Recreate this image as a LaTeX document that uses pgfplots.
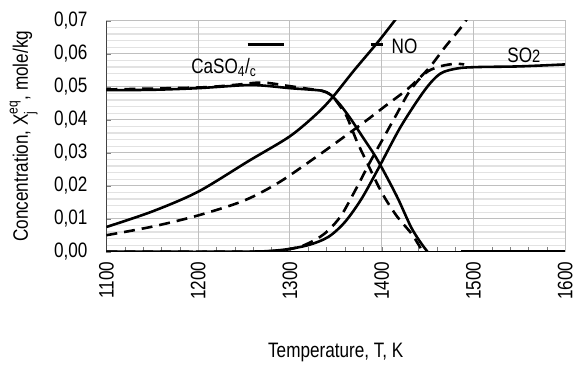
\documentclass[border=0pt]{standalone}
\usepackage{pgfplots}
\pgfplotsset{compat=1.18}
\usepackage{amsmath}
\usepackage{fontspec}
\setmainfont{Liberation Sans}[FakeStretch=0.82]
\definecolor{gmaj}{HTML}{BFBFBF}
\definecolor{gmin}{HTML}{E2E2E2}
\begin{document}
\fontsize{21}{24}\selectfont
\begin{tikzpicture}
\begin{axis}[name=ax, scale only axis, width=461pt, height=232pt,
  xmin=1100, xmax=1600, ymin=0, ymax=0.07,
  scaled y ticks=false,
  xtick={1100,1200,1300,1400,1500,1600},
  ytick={0,0.01,0.02,0.03,0.04,0.05,0.06,0.07},
  minor x tick num=4,
  xtick pos=bottom, ytick pos=left,
  tick align=inside, major tick length=4.5pt, minor tick length=4.5pt,
  axis line style={gmaj, line width=1pt},
  /pgf/number format/assume math mode=true,
  ticklabel style={font=\fontsize{21}{24}\selectfont},
  xticklabel style={/pgf/number format/.cd, 1000 sep={}, /tikz/.cd, yshift=-3pt, rotate=90, anchor=east},
  yticklabel style={/pgf/number format/.cd, use comma, fixed, fixed zerofill, precision=2, /tikz/.cd, xshift=-12pt},
  xlabel={Temperature, T, K},
  xlabel style={at={(axis description cs:0.5,0)}, anchor=base, yshift=-106pt, font=\fontsize{21}{24}\selectfont},
  ylabel={Concentration, X$_{\textrm{j}}^{\textrm{eq}}$, mole/kg},
  ylabel style={at={(axis description cs:-0.1714,0.5)}, anchor=base, rotate=0, font=\fontsize{21}{24}\selectfont},
]
% grid lines
\pgfplotsinvokeforeach{0.002,0.004,0.006,0.008,0.012,0.014,0.016,0.018,0.022,0.024,0.026,0.028,0.032,0.034,0.036,0.038,0.042,0.044,0.046,0.048,0.052,0.054,0.056,0.058,0.062,0.064,0.066,0.068}{
  \draw[gmin, line width=1.2pt] (axis cs:1100,#1) -- (axis cs:1600,#1);
}
\pgfplotsinvokeforeach{0.01,0.02,0.03,0.04,0.05,0.06}{
  \draw[gmaj, line width=1.2pt] (axis cs:1100,#1) -- (axis cs:1600,#1);
}
\pgfplotsinvokeforeach{1200,1300,1400,1500}{
  \draw[gmaj, line width=1.2pt] (axis cs:#1,0) -- (axis cs:#1,0.07);
}
% CaSO4/c solid
\addplot[black, line width=2.6pt, smooth] coordinates {
(1100,0.0490) (1150,0.0491) (1200,0.0496) (1250,0.0505) (1270,0.0504)
(1300,0.0496) (1320,0.0492) (1335,0.0488) (1344,0.0477) (1355,0.0445)
(1367,0.0400) (1380,0.0345) (1393,0.0290) (1405,0.0230) (1418,0.0160)
(1432,0.0075) (1442,0.0030) (1450,0.0000) (1456,-0.0020)};
\addplot[black, line width=2.6pt] coordinates {(1487,0) (1600,0)};
% CaSO4/c dashed
\addplot[black, line width=2.6pt, smooth, dash pattern=on 11pt off 7pt] coordinates {
(1100,0.0492) (1200,0.0498) (1240,0.0506) (1270,0.0513) (1300,0.0502)
(1320,0.0494) (1335,0.0488) (1345,0.0475) (1355,0.0440) (1362,0.0410)
(1373,0.0335) (1385,0.0265) (1400,0.0180) (1416,0.0110) (1433,0.0053)
(1445,0.0000) (1450,-0.0015)};
% NO solid
\addplot[black, line width=2.6pt, smooth] coordinates {
(1100,0.0075) (1150,0.0122) (1200,0.0182) (1255,0.0275) (1300,0.0350)
(1330,0.0420) (1347,0.0470) (1370,0.0550) (1396,0.0636) (1414,0.0700)
(1425,0.0740)};
% NO dashed
\addplot[black, line width=2.6pt, smooth, dash pattern=on 11pt off 7pt] coordinates {
(1100,0.0050) (1150,0.0076) (1200,0.0110) (1250,0.0155) (1288,0.0210)
(1330,0.0290) (1355,0.0340) (1382,0.0395) (1405,0.0444) (1429,0.0495)
(1451,0.0555) (1469,0.0620) (1488,0.0685) (1496,0.0720)};
% SO2 solid
\addplot[black, line width=2.6pt, smooth] coordinates {
(1100,0.0000) (1250,0.0000) (1290,0.0005) (1320,0.0020) (1342,0.0045)
(1360,0.0090) (1378,0.0160) (1396,0.0250) (1421,0.0380) (1447,0.0490)
(1464,0.0540) (1483,0.0556) (1505,0.0560) (1550,0.0562) (1600,0.0568)};
% SO2 dashed
\addplot[black, line width=2.6pt, smooth, dash pattern=on 11pt off 7pt] coordinates {
(1100,0.0000) (1250,0.0000) (1290,0.0004) (1312,0.0016) (1330,0.0040)
(1342,0.0065) (1356,0.0110) (1372,0.0190) (1387,0.0270) (1401,0.0340)
(1416,0.0415) (1429,0.0480) (1440,0.0520) (1451,0.0548) (1465,0.0563)
(1480,0.0570) (1490,0.0568)};
% left and bottom axis lines in black
\draw[black, line width=1pt] (rel axis cs:0,1) -- (rel axis cs:0,0) -- (rel axis cs:1,0);
% labels and legend remnants
\node[font=\fontsize{21}{24}\selectfont] at (axis cs:1228,0.0558) {CaSO\textsubscript{4}/\textsubscript{c}};
\node[font=\fontsize{21}{24}\selectfont] at (axis cs:1425,0.0622) {NO};
\node[font=\fontsize{21}{24}\selectfont] at (axis cs:1555,0.0597) {SO{\fontsize{18}{20}\selectfont 2}};
\draw[black, line width=2.8pt] (axis cs:1254,0.0629) -- (axis cs:1294,0.0629);
\draw[black, line width=2.8pt] (axis cs:1388,0.0629) -- (axis cs:1401,0.0629);
\end{axis}
\pgfresetboundingbox
\path ([xshift=-107pt,yshift=-116pt]ax.south west) rectangle ([xshift=12pt,yshift=21pt]ax.north east);
\end{tikzpicture}
\end{document}
